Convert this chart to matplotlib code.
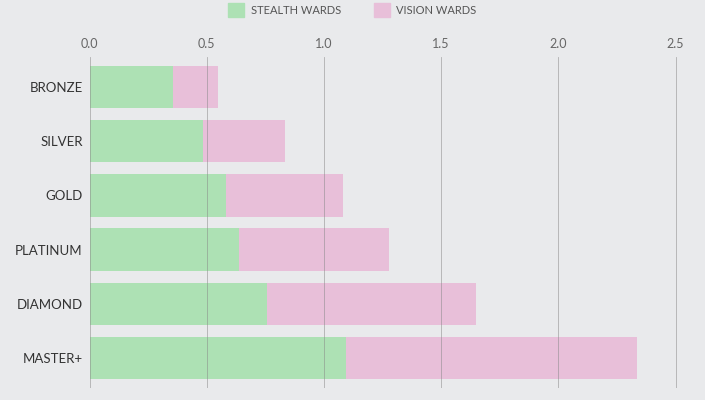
import matplotlib.pyplot as plt
from matplotlib.patches import Patch

ranks = ["BRONZE", "SILVER", "GOLD", "PLATINUM", "DIAMOND", "MASTER+"]
stealth_wards = [0.356, 0.483, 0.581, 0.636, 0.757, 1.093]
vision_wards = [0.192, 0.349, 0.499, 0.643, 0.892, 1.242]
x_ticks = [0.0, 0.5, 1.0, 1.5, 2.0, 2.5]

bg = "#e9eaec"
green = "#ade1b4"
pink = "#e8bfd9"

plt.rcParams['font.family'] = ['Lato', 'DejaVu Sans']

fig = plt.figure(figsize=(7.05, 4.0), dpi=100, facecolor=bg)
ax = fig.add_axes([0.127, 0.03, 0.848, 0.8275], facecolor=bg)

pos = list(range(len(ranks)))
ax.barh(pos, stealth_wards, height=0.78, color=green, zorder=1)
ax.barh(pos, vision_wards, left=stealth_wards, height=0.78, color=pink, zorder=1)

ax.set_xlim(0, 2.55)
ax.set_ylim(5.55, -0.55)
ax.set_xticks(x_ticks)
ax.set_xticklabels([f"{t:.1f}" for t in x_ticks])
ax.xaxis.tick_top()
ax.set_yticks(pos)
ax.set_yticklabels(ranks)

for t in x_ticks:
    ax.axvline(t, color="#888888", linewidth=0.6, alpha=0.6, zorder=2)

for s in ax.spines.values():
    s.set_visible(False)
ax.tick_params(axis='x', length=0, pad=5, labelsize=9, labelcolor="#666666")
ax.tick_params(axis='y', length=0, pad=5, labelsize=9.5, labelcolor="#333333")

handles = [Patch(color=green, label="STEALTH WARDS"), Patch(color=pink, label="VISION WARDS")]
leg = fig.legend(handles=handles, loc="upper center", bbox_to_anchor=(0.5, 1.017), ncol=2,
                 frameon=False, fontsize=8, handlelength=1.4, handleheight=1.5,
                 columnspacing=3.0, handletextpad=0.6)
for txt in leg.get_texts():
    txt.set_color("#555555")

fig.savefig("out.png", dpi=100, facecolor=bg)
